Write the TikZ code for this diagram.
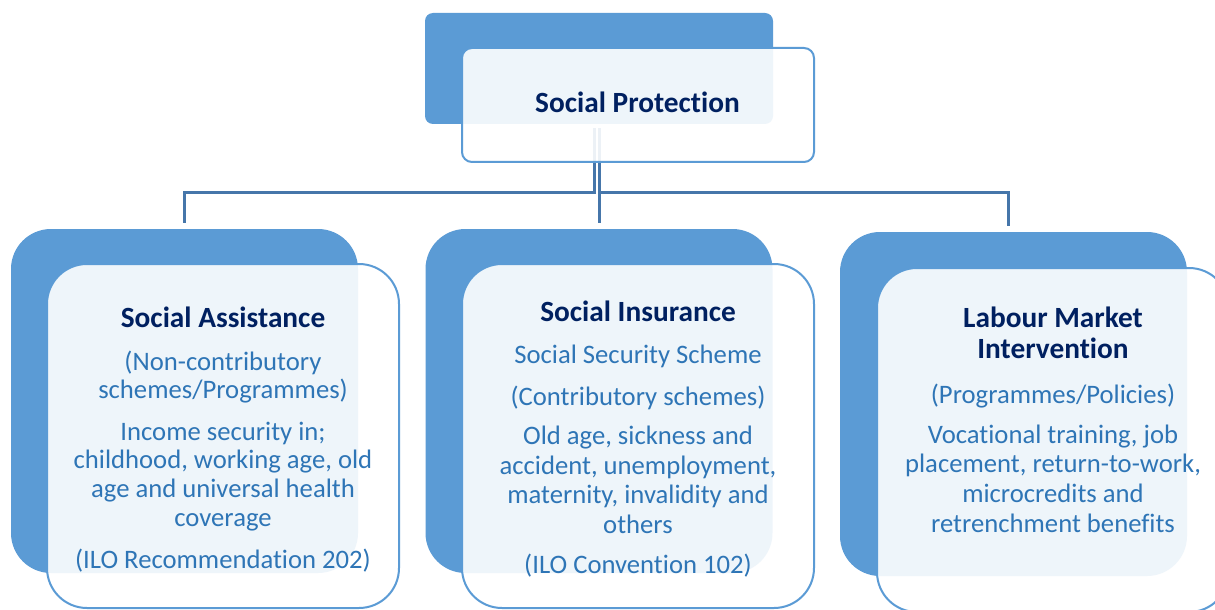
\documentclass[tikz,border=0pt]{standalone}
\usepackage{fontspec}
\setmainfont[Ligatures={NoCommon,NoRare,NoContextual},Contextuals=NoAlternate]{Carlito}
\definecolor{boxblue}{HTML}{5B9BD5}
\definecolor{linkblue}{HTML}{4676AA}
\definecolor{navy}{HTML}{002060}
\definecolor{bodyblue}{HTML}{2E75B6}
% keeps letter pairs such as t-i and f-i apart
\newcommand{\nl}{\kern0pt }
\begin{document}
\begin{tikzpicture}[x=0.75pt,y=-0.75pt,
  backbox/.style={fill=boxblue, draw=none, rounded corners=30pt, inner sep=0pt,
    minimum width=260.25pt, minimum height=258pt},
  frontbox/.style={fill=white, fill opacity=0.9, draw=boxblue, line width=1.5pt,
    rounded corners=30pt, inner sep=0pt, minimum width=264pt, minimum height=258pt},
  conn/.style={draw=linkblue, line width=2.25pt},
  ttl/.style={anchor=base, inner sep=0pt, text=navy,
    font=\fontsize{22}{26}\selectfont\bfseries},
  body/.style={anchor=base, inner sep=0pt, text=bodyblue,
    font=\fontsize{20}{24}\selectfont}]

\useasboundingbox (0,0) rectangle (1215,610);
\fill[white] (0,0) rectangle (1215,610);
\clip (0,0) rectangle (1215,610);

% back panels
\node[backbox, minimum width=261pt, minimum height=83.25pt, rounded corners=6pt]
  (sp-back) at (599,68.5) {};
\node[backbox] (sa-back) at (184.5,401) {};
\node[backbox] (si-back) at (599,401) {};
\node[backbox] (lm-back) at (1013.5,404) {};

% org-chart connectors
\coordinate (spL) at ([xshift=-3.75pt,yshift=-3pt]sp-back.south);
\coordinate (spR) at ([yshift=-3pt]sp-back.south);
\coordinate (bus) at (0,192);
\draw[conn] (spL) -- (spL |- bus) -| ([yshift=4.5pt]sa-back.north);
\draw[conn] (spR) -- ([yshift=4.5pt]si-back.north);
\draw[conn] (spR |- bus) -| ([xshift=-3.4pt,yshift=4.5pt]lm-back.north);

% front panels
\node[frontbox, minimum width=264pt, minimum height=85.5pt, rounded corners=7.5pt]
  (sp-front) at (638,105) {};
\node[frontbox] (sa-front) at (223,436) {};
\node[frontbox] (si-front) at (638,436) {};
\node[frontbox] (lm-front) at (1053,440) {};

% top
\node[ttl] (sp-title) at (637.5,113) {Social Protect\nl ion};

% social assistance
\node[ttl]  (sa-title) at (223,327) {Social Assistance};
\node[body] (sa-l1) at (223,370) {(Non-contributory};
\node[body] (sa-l2) at (223,398) {schemes/Programmes)};
\node[body] (sa-l3) at (223,440) {Income security in;};
\node[body] (sa-l4) at (223,468) {childhood, working age, old};
\node[body] (sa-l5) at (223,497) {age and universal health};
\node[body] (sa-l6) at (223,526) {coverage};
\node[body] (sa-l7) at (223,568) {(ILO Recommendat\nl ion 202)};

% social insurance
\node[ttl]  (si-title) at (638,321) {Social Insurance};
\node[body] (si-l1) at (638,363) {Social Security Scheme};
\node[body] (si-l2) at (638,405) {(Contributory schemes)};
\node[body] (si-l3) at (638,444) {Old age, sickness and};
\node[body] (si-l4) at (638,474) {accident, unemployment,};
\node[body] (si-l5) at (638,503) {maternity, invalidity and};
\node[body] (si-l6) at (638,533) {others};
\node[body] (si-l7) at (638,573) {(ILO Convent\nl ion 102)};

% labour market intervention
\node[ttl]  (lm-title1) at (1053,327) {Labour Market};
\node[ttl]  (lm-title2) at (1053,358) {Intervent\nl ion};
\node[body] (lm-l1) at (1053,403) {(Programmes/Policies)};
\node[body] (lm-l2) at (1053,443) {Vocat\nl ional training, job};
\node[body] (lm-l3) at (1053,472) {placement, return-to-work,};
\node[body] (lm-l4) at (1053,502) {microcredits and};
\node[body] (lm-l5) at (1053,532) {retrenchment benef\nl its};

\end{tikzpicture}
\end{document}
